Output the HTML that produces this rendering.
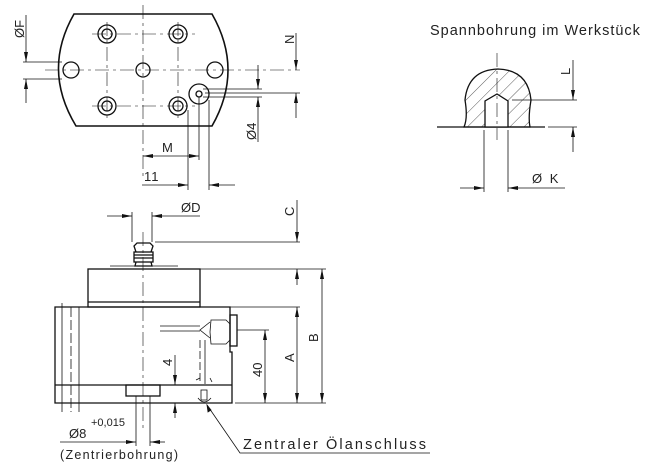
<!DOCTYPE html>
<html><head><meta charset="utf-8"><style>
html,body{margin:0;padding:0;background:#fff}
svg{display:block}
text{font-family:"Liberation Sans",sans-serif;fill:#222}
</style></head><body>
<svg width="650" height="476" viewBox="0 0 650 476" xmlns="http://www.w3.org/2000/svg">
<defs>
<marker id="a" viewBox="0 0 10 4" refX="10" refY="2" markerWidth="10" markerHeight="4" markerUnits="userSpaceOnUse" orient="auto-start-reverse"><path d="M0,0 L10,2 L0,4z" fill="#111"/></marker>
<pattern id="h" patternUnits="userSpaceOnUse" width="10" height="10" patternTransform="rotate(45)"><line x1="0" y1="0" x2="0" y2="10" stroke="#333" stroke-width="0.8"/></pattern>
</defs>
<g stroke="#111" fill="none" stroke-width="0.8">
<path d="M74,14 L212,14 Q244,70 212,126 L76,126 Q42,70 74,14Z" stroke-width="1.6"/>
<g stroke-dasharray="14,4,3,4" stroke-width="0.6">
<line x1="143" y1="5" x2="143" y2="180"/>
<line x1="45" y1="70" x2="300" y2="70"/>
<line x1="92" y1="34" x2="195" y2="34"/>
<line x1="92" y1="106" x2="195" y2="106"/>
<line x1="107" y1="22" x2="107" y2="118"/>
<line x1="178" y1="22" x2="178" y2="118"/>
</g>
<g stroke-width="1.3">
<circle cx="107" cy="34" r="9"/><circle cx="178" cy="34" r="9"/><circle cx="107" cy="106" r="9"/><circle cx="178" cy="106" r="9"/>
<circle cx="107" cy="34" r="5"/><circle cx="178" cy="34" r="5"/><circle cx="107" cy="106" r="5"/><circle cx="178" cy="106" r="5"/>
<circle cx="71" cy="70" r="8"/><circle cx="143" cy="70" r="7"/><circle cx="215" cy="70" r="8"/>
<circle cx="199" cy="94" r="10"/><circle cx="199" cy="94" r="3"/>
</g>
<line x1="26" y1="15" x2="26" y2="50"/><line x1="26" y1="50" x2="26" y2="62" marker-end="url(#a)"/>
<line x1="26" y1="91" x2="26" y2="79" marker-end="url(#a)"/><line x1="26" y1="91" x2="26" y2="103"/>
<line x1="23" y1="62" x2="62" y2="62"/><line x1="23" y1="79" x2="62" y2="79"/>
<line x1="296" y1="33" x2="296" y2="70" marker-end="url(#a)"/>
<line x1="296" y1="118" x2="296" y2="93" marker-end="url(#a)"/>
<line x1="205" y1="93" x2="300" y2="93"/>
<line x1="258" y1="65" x2="258" y2="89" marker-end="url(#a)"/>
<line x1="258" y1="142" x2="258" y2="97" marker-end="url(#a)"/>
<line x1="203" y1="89" x2="262" y2="89"/><line x1="203" y1="97" x2="262" y2="97"/>
<line x1="199" y1="97" x2="199" y2="160"/>
<line x1="143" y1="156" x2="199" y2="156" marker-start="url(#a)" marker-end="url(#a)"/>
<line x1="188" y1="110" x2="188" y2="190"/><line x1="209" y1="100" x2="209" y2="190"/>
<line x1="142" y1="185" x2="188" y2="185" marker-end="url(#a)"/>
<line x1="235" y1="185" x2="209" y2="185" marker-end="url(#a)"/>

<line x1="143" y1="232" x2="143" y2="428" stroke-dasharray="14,4,3,4" stroke-width="0.6"/>
<line x1="132" y1="212" x2="132" y2="242"/><line x1="152" y1="212" x2="152" y2="242"/>
<line x1="107" y1="216" x2="132" y2="216" marker-end="url(#a)"/>
<line x1="200" y1="216" x2="152" y2="216" marker-end="url(#a)"/>
<g stroke-width="1.3">
<path d="M136,252 L134,246 L137,243 L150,243 L153,246 L151,252"/>
<rect x="134" y="252" width="19" height="10"/>
<line x1="134" y1="255" x2="153" y2="255"/><line x1="134" y1="258" x2="153" y2="258"/>
<path d="M136,262 L135,266 L152,266 L151,262"/>
<rect x="88" y="269" width="112" height="38"/>
<line x1="88" y1="302" x2="200" y2="302"/>
<path d="M55,307 L230,307 L230,352 L232,352 L232,403 L55,403 Z"/>
<line x1="55" y1="385" x2="232" y2="385"/>
<rect x="230" y="315" width="7" height="31"/>
<rect x="126" y="385" width="34" height="11"/>
</g>
<line x1="110" y1="266" x2="178" y2="266"/>
<line x1="62" y1="303" x2="62" y2="412"/><line x1="71" y1="307" x2="71" y2="412" stroke-dasharray="10,3"/><line x1="79" y1="307" x2="79" y2="412"/>
<path d="M211,320 L226,320 L230,324 L230,340 L226,344 L211,344 L210,332 Z"/>
<path d="M210,322 L200,330 L210,338"/>
<line x1="160" y1="326" x2="200" y2="326"/><line x1="160" y1="331" x2="200" y2="331"/>
<line x1="200" y1="340" x2="200" y2="384" stroke-dasharray="8,3"/><line x1="205" y1="340" x2="205" y2="384"/>
<path d="M196,380 L200,378 M210,378 L212,382"/>
<rect x="201" y="390" width="6" height="10"/>
<path d="M198,398 Q204,406 211,398"/>
<line x1="155" y1="242" x2="300" y2="242"/>
<line x1="200" y1="269" x2="326" y2="269"/>
<line x1="297" y1="200" x2="297" y2="242" marker-end="url(#a)"/>
<line x1="297" y1="285" x2="297" y2="269" marker-end="url(#a)"/>
<line x1="230" y1="307" x2="300" y2="307"/>
<line x1="235" y1="403" x2="326" y2="403"/>
<line x1="237" y1="330" x2="269" y2="330"/>
<line x1="322" y1="269" x2="322" y2="403" marker-start="url(#a)" marker-end="url(#a)"/>
<line x1="297" y1="307" x2="297" y2="403" marker-start="url(#a)" marker-end="url(#a)"/>
<line x1="265" y1="330" x2="265" y2="403" marker-start="url(#a)" marker-end="url(#a)"/>
<line x1="175" y1="355" x2="175" y2="385" marker-end="url(#a)"/>
<line x1="175" y1="418" x2="175" y2="403" marker-end="url(#a)"/>
<line x1="160" y1="385" x2="178" y2="385"/>
<line x1="136" y1="396" x2="136" y2="446"/><line x1="150" y1="396" x2="150" y2="446"/>
<line x1="60" y1="442" x2="136" y2="442" marker-end="url(#a)"/>
<line x1="165" y1="442" x2="150" y2="442" marker-end="url(#a)"/>
<polyline points="207,405 240,453 430,453"/>
<path d="M207,405 L208,412 L211,410 Z" fill="#111"/>

<line x1="437" y1="127" x2="545" y2="127" stroke-width="1.3"/>
<path d="M464,127 Q468,118 465,100 Q468,70 498,69 Q528,70 531,100 Q528,118 530,127 Z" fill="url(#h)" stroke-width="1.3"/>
<path d="M485,127 L485,101 L497,94 L508,101 L508,127 Z" fill="#fff" stroke-width="1.3"/>
<line x1="497" y1="53" x2="497" y2="140" stroke-dasharray="14,4,3,4" stroke-width="0.6"/>
<line x1="512" y1="100" x2="577" y2="100"/><line x1="548" y1="127" x2="577" y2="127"/>
<line x1="573" y1="60" x2="573" y2="100" marker-end="url(#a)"/>
<line x1="573" y1="152" x2="573" y2="127" marker-end="url(#a)"/>
<line x1="484" y1="130" x2="484" y2="192"/><line x1="508" y1="130" x2="508" y2="192"/>
<line x1="460" y1="188" x2="484" y2="188" marker-end="url(#a)"/>
<line x1="565" y1="188" x2="508" y2="188" marker-end="url(#a)"/>
</g>
<g font-size="13">
<text transform="translate(24,38) rotate(-90)">ØF</text>
<text transform="translate(294,44) rotate(-90)">N</text>
<text transform="translate(256,140) rotate(-90)">Ø4</text>
<text x="162" y="152">M</text>
<text x="144" y="181" letter-spacing="1">11</text>
<text x="181" y="212">ØD</text>
<text transform="translate(294,216) rotate(-90)">C</text>
<text transform="translate(318,342) rotate(-90)">B</text>
<text transform="translate(294,362) rotate(-90)">A</text>
<text transform="translate(262,377) rotate(-90)">40</text>
<text transform="translate(172,366) rotate(-90)">4</text>
<text x="69" y="438">Ø8</text>
<text x="91" y="426" font-size="11">+0,015</text>
<text x="60" y="459" font-size="12.5" letter-spacing="1.3">(Zentrierbohrung)</text>
<text x="243" y="449" font-size="14.5" letter-spacing="2.1">Zentraler Ölanschluss</text>
<text x="430" y="35" font-size="14.5" letter-spacing="1">Spannbohrung im Werkstück</text>
<text transform="translate(570,75) rotate(-90)">L</text>
<text x="532" y="183" letter-spacing="2">Ø K</text>
</g>
</svg>
</body></html>
